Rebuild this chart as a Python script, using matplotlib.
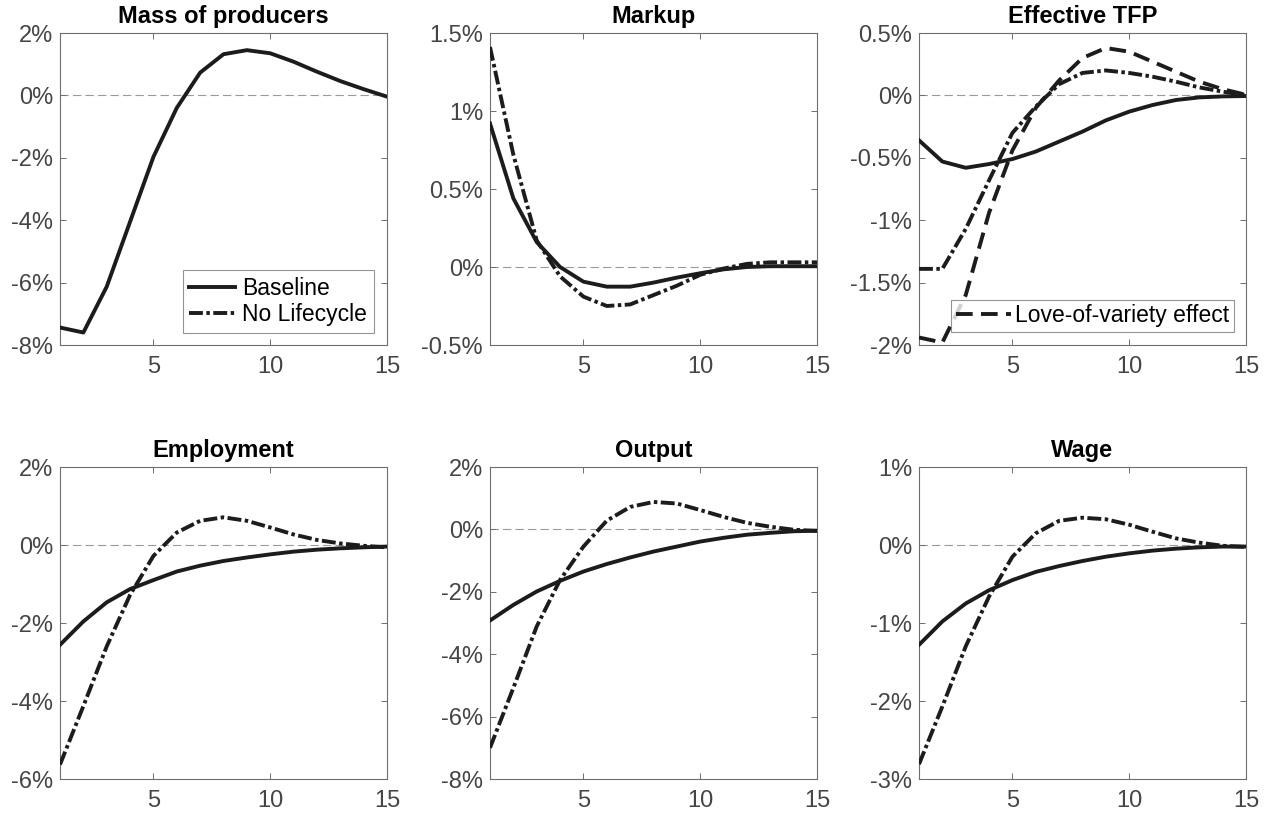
import matplotlib
matplotlib.use("Agg")
import matplotlib.pyplot as plt
from matplotlib.lines import Line2D
from matplotlib.ticker import FuncFormatter
import numpy as np

plt.rcParams["font.family"] = ["Liberation Sans", "DejaVu Sans"]
plt.rcParams["axes.unicode_minus"] = False
plt.rcParams["lines.scale_dashes"] = False

# horizon (quarters)
periods = np.arange(1, 16)

# impulse responses, in percent
mass_base = [-7.44, -7.6, -6.13, -4.05, -1.97, -0.4, 0.73, 1.32, 1.45, 1.35,
             1.08, 0.76, 0.46, 0.2, -0.04]

markup_base = [0.92, 0.44, 0.16, 0.0, -0.094, -0.126, -0.126, -0.10, -0.068,
               -0.04, -0.015, 0.0, 0.005, 0.005, 0.005]
markup_nolc = [1.41, 0.72, 0.17, -0.06, -0.19, -0.25, -0.24, -0.18, -0.12,
               -0.05, -0.01, 0.02, 0.03, 0.03, 0.03]

tfp_base = [-0.36, -0.53, -0.58, -0.55, -0.51, -0.45, -0.37, -0.29, -0.20,
            -0.13, -0.077, -0.037, -0.016, -0.008, -0.005]
tfp_nolc = [-1.39, -1.39, -1.07, -0.68, -0.30, -0.09, 0.09, 0.18, 0.20, 0.18,
            0.15, 0.11, 0.064, 0.03, 0.003]
tfp_lov = [-1.94, -1.98, -1.60, -0.94, -0.44, -0.10, 0.12, 0.30, 0.38, 0.35,
           0.27, 0.19, 0.11, 0.05, 0.005]

emp_base = [-2.56, -1.96, -1.47, -1.13, -0.90, -0.68, -0.53, -0.41, -0.32,
            -0.24, -0.17, -0.12, -0.085, -0.06, -0.04]
emp_nolc = [-5.63, -4.13, -2.6, -1.28, -0.28, 0.32, 0.62, 0.71, 0.62, 0.45,
            0.27, 0.13, 0.04, -0.02, -0.06]

out_base = [-2.92, -2.42, -1.99, -1.65, -1.35, -1.11, -0.90, -0.71, -0.55,
            -0.39, -0.27, -0.17, -0.11, -0.06, -0.04]
out_nolc = [-7.0, -5.08, -3.11, -1.62, -0.55, 0.28, 0.72, 0.88, 0.83, 0.62,
            0.40, 0.21, 0.085, -0.01, -0.05]

wage_base = [-1.28, -0.98, -0.75, -0.58, -0.45, -0.345, -0.27, -0.205, -0.15,
             -0.107, -0.072, -0.047, -0.03, -0.02, -0.02]
wage_nolc = [-2.81, -2.07, -1.30, -0.66, -0.15, 0.15, 0.31, 0.35, 0.33, 0.26,
             0.17, 0.085, 0.03, -0.01, -0.025]

titles = ["Mass of producers", "Markup", "Effective TFP",
          "Employment", "Output", "Wage"]
yticks = [np.arange(-8, 2.1, 2), np.arange(-0.5, 1.51, 0.5),
          np.arange(-2, 0.51, 0.5), np.arange(-6, 2.1, 2),
          np.arange(-8, 2.1, 2), np.arange(-3, 1.1, 1)]
series = [
    [mass_base, None, None],
    [markup_base, markup_nolc, None],
    [tfp_base, tfp_nolc, tfp_lov],
    [emp_base, emp_nolc, None],
    [out_base, out_nolc, None],
    [wage_base, wage_nolc, None],
]

INK = "#1c1c1c"
AXC = "#6e6e6e"
LW = 2.8
DASHDOT = (0, (10, 2.5, 2.5, 2.5))
DASHED = (0, (12, 6))

fig = plt.figure(figsize=(12.7, 8.19), dpi=100)
lefts = [60 / 1270, 490 / 1270, 919 / 1270]
bottoms = [1 - 345 / 819, 1 - 779 / 819]
w = 327 / 1270
h = 312 / 819

pct = FuncFormatter(lambda v, p: f"{v:g}%")

for i, title in enumerate(titles):
    ax = fig.add_axes([lefts[i % 3], bottoms[i // 3], w, h])
    base, nolc, lov = series[i]
    ax.axhline(0, color="#9a9a9a", lw=0.8, ls=(0, (6, 3)), zorder=1)
    ax.plot(periods, base, color=INK, lw=LW, zorder=3)
    if nolc is not None:
        ax.plot(periods, nolc, color=INK, lw=LW, ls=DASHDOT, zorder=4)
    if lov is not None:
        ax.plot(periods, lov, color=INK, lw=LW, ls=DASHED, zorder=4,
                label="Love-of-variety effect")
    yt = yticks[i]
    ax.set_xlim(1, 15)
    ax.set_ylim(yt[0], yt[-1])
    ax.set_xticks([5, 10, 15])
    ax.set_yticks(yt)
    ax.yaxis.set_major_formatter(pct)
    ax.tick_params(direction="in", length=4, width=0.7, color=AXC,
                   labelsize=17, labelcolor="#454545", top=True, right=True)
    ax.tick_params(axis="x", pad=8)
    ax.tick_params(axis="y", pad=5)
    for s in ax.spines.values():
        s.set_color(AXC)
        s.set_linewidth(0.8)
    ax.set_title(title, fontsize=17, fontweight="bold", color="black", pad=7)

    if i == 0:
        handles = [Line2D([], [], color=INK, lw=LW),
                   Line2D([], [], color=INK, lw=LW, ls=DASHDOT)]
        leg = ax.legend(handles, ["Baseline", "No Lifecycle"],
                        loc="lower right", bbox_to_anchor=(0.96, 0.038),
                        borderaxespad=0, fontsize=16.5, frameon=True,
                        fancybox=False, handlelength=2.0, handletextpad=0.3,
                        borderpad=0.3, labelspacing=0.15)
        leg.get_frame().set_edgecolor("#7a7a7a")
        leg.get_frame().set_linewidth(0.8)
    if i == 2:
        leg = ax.legend(loc="lower right", bbox_to_anchor=(0.963, 0.042),
                        borderaxespad=0, fontsize=16.5, frameon=True,
                        fancybox=False, handlelength=2.4, handletextpad=0.2,
                        borderpad=0.2)
        leg.get_frame().set_edgecolor("#7a7a7a")
        leg.get_frame().set_linewidth(0.8)

fig.savefig("out.png", dpi=100)
